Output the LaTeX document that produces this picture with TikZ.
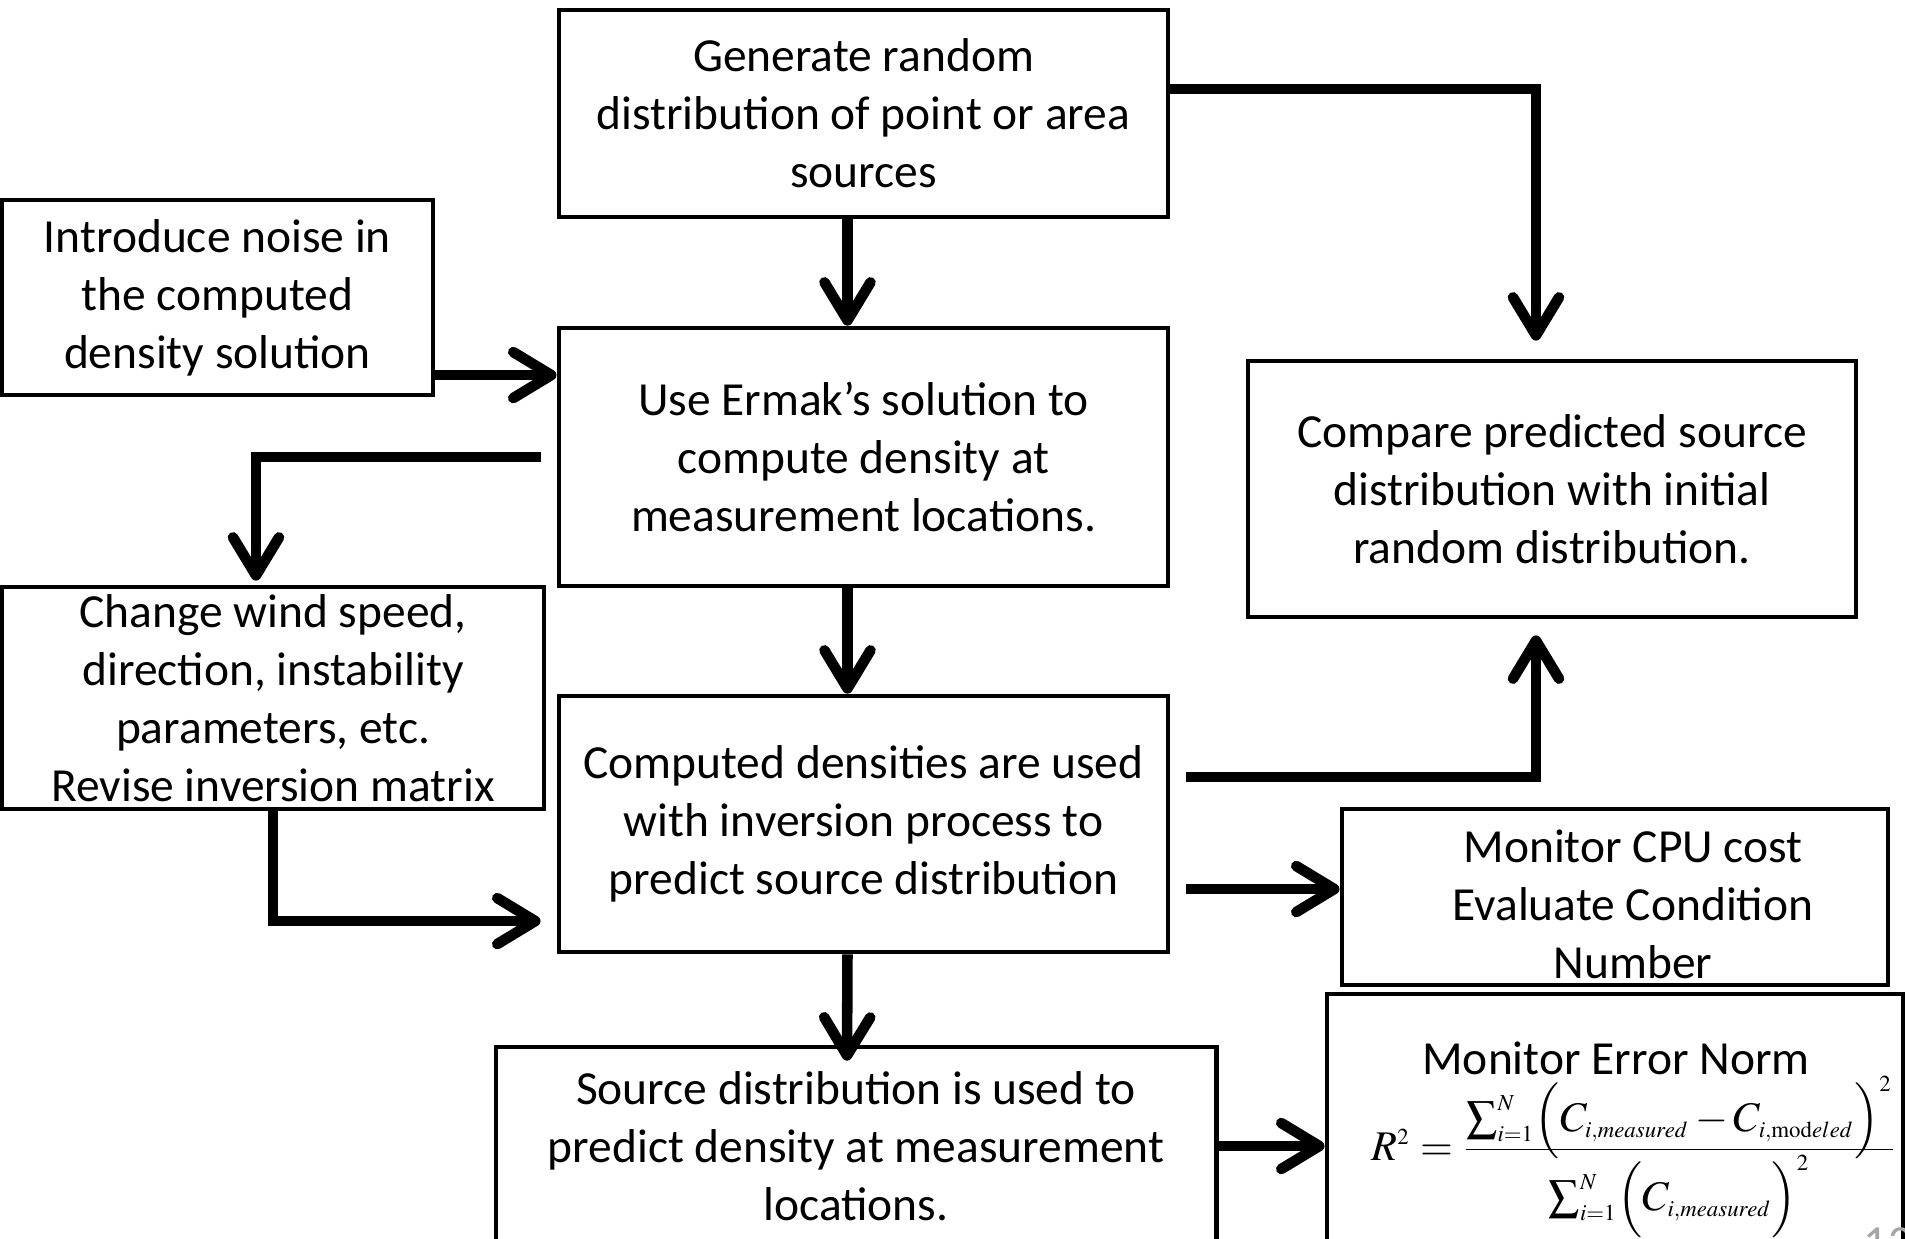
\documentclass[tikz,border=0pt]{standalone}
\usepackage{amsmath}
\usepackage{graphicx}
\usepackage{mathptmx}
\usepackage[no-math]{fontspec}
\setmainfont{Carlito}
\usetikzlibrary{arrows.meta}
\DeclareMathSizes{12}{12}{6.5}{5}
% a display sum, scaled down, with its limits on the side
\newcommand{\ssum}{\mathop{\vcenter{\hbox{\scalebox{0.72}{$\displaystyle\sum$}}}}\nolimits}

\begin{document}
\begin{tikzpicture}[x=0.01cm, y=-0.01cm, font=\fontsize{13.5}{16.5}\selectfont,
    box/.style={draw, line width=1.3pt, inner xsep=0pt, inner ysep=-1cm, align=center},
    flow/.style={line width=3pt, line cap=butt,
      -{Straight Barb[length=3.8mm, width=4.6mm, round]}}]
  \useasboundingbox (0,0) rectangle (1905,1238);
  % ------------------------------------------------------------------ main column
  \node[box, minimum width=6.09cm, minimum height=2.07cm] (gen) at (863.5,113.5)
    {Generate random\\distribution of point or area\\sources};
  \node[box, minimum width=6.09cm, minimum height=2.58cm] (ermak) at (863.5,457)
    {Use Ermak's solution to\\compute density at\\measurement locations.};
  \node[box, minimum width=6.09cm, minimum height=2.56cm] (comp) at (863.5,824)
    {Computed densities are used\\with inversion process to\\predict source distribution};
  \node[box, minimum width=7.2cm, minimum height=1.98cm] (source) at (856,1146)
    {Source distribution is used to\\predict density at measurement\\locations.};
  % ------------------------------------------------------------------ left column
  \node[box, minimum width=4.31cm, minimum height=1.95cm] (noise) at (217.5,297.5)
    {Introduce noise in\\the computed\\density solution};
  \node[box, minimum width=5.42cm, minimum height=2.22cm] (wind) at (273,698)
    {Change wind speed,\\direction, instability\\parameters, etc.\\Revise inversion matrix};
  % ------------------------------------------------------------------ right column
  \node[box, minimum width=6.08cm, minimum height=2.56cm] (compare) at (1552,489)
    {Compare predicted source\\distribution with initial\\random distribution.};
  \node[box, minimum width=5.46cm, minimum height=1.76cm] (cpu) at (1615,897) {};
  \node[align=center, inner sep=0pt] (cputext) at (1633,904)
    {Monitor CPU cost\\Evaluate Condition\\Number};
  \node[box, minimum width=5.76cm, minimum height=2.56cm] (err) at (1615,1122) {};
  \node[inner sep=0pt] (errtitle) at (1616,1058) {Monitor Error Norm};
  \node[anchor=base west, inner sep=0pt, font=\fontsize{12}{14}\selectfont] (errformula) at (1371,1160)
    {$R^2=\dfrac{\smash[b]{\ssum_{i=1}^{N}\Bigl(C_{i,measured}-C_{i,\mathrm{mod}eled}\Bigr)^2}}
      {\ssum_{i=1}^{N}\Bigl(C_{i,measured}\Bigr)^2}$};
  \node[anchor=north, inner sep=0pt, text=gray!70] (pagenum) at (1888,1227) {12};
  % ------------------------------------------------------------------ connectors
  \draw[flow] ([xshift=-0.16cm]gen.south) -- ([xshift=-0.16cm]ermak.north);
  \draw[flow] ([xshift=-0.16cm]ermak.south) -- ([xshift=-0.16cm]comp.north);
  \draw[flow] ([xshift=-0.16cm]comp.south) -- ([xshift=-0.09cm,yshift=-0.16cm]source.north);
  \draw[flow] ([yshift=0.245cm]gen.east) -| ([xshift=-0.16cm,yshift=0.18cm]compare.north);
  \draw[flow] ([yshift=-0.775cm]noise.east) coordinate (n1) -- (n1 -| ermak.west);
  \draw[flow] ([xshift=-0.16cm]ermak.west) -| ([xshift=-0.17cm,yshift=0.04cm]wind.north);
  \draw[flow] (wind.south) |- ([xshift=-0.16cm,yshift=-0.97cm]comp.west);
  \draw[flow] ([xshift=0.16cm,yshift=0.47cm]comp.east) -| ([xshift=-0.16cm,yshift=-0.16cm]compare.south);
  \draw[flow] ([xshift=0.16cm,yshift=-0.65cm]comp.east) coordinate (c1) -- (c1 -| cpu.west);
  \draw[flow] (source.east) -- (source.east -| err.west);
\end{tikzpicture}
\end{document}
